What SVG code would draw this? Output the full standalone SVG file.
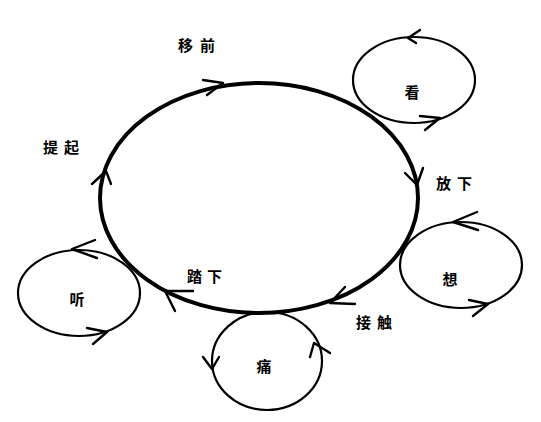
<svg xmlns="http://www.w3.org/2000/svg" width="541" height="422" viewBox="0 0 541 422">
<style>
.big{fill:none;stroke:#000;stroke-width:4}
.small{fill:none;stroke:#000;stroke-width:2.2}
.ah{fill:none;stroke:#000;stroke-width:2.4;stroke-linecap:round;stroke-linejoin:round}
.lbl{font-family:"Noto Sans CJK SC","Noto Sans CJK JP",sans-serif;font-weight:700;font-size:15px;fill:#000}
.in{font-family:"Noto Sans CJK SC","Noto Sans CJK JP",sans-serif;font-weight:700;font-size:15px;fill:#000;text-anchor:middle}
</style>
<rect width="541" height="422" fill="#fff"/>
<g id="cycle">
<ellipse class="big" cx="259" cy="198" rx="159" ry="115"/>
</g>
<g id="connectors">
<polyline class="ah" points="203,80 223,83 207,95"/>
<polyline class="ah" points="405,173 417,185 423,168"/>
<polyline class="ah" points="345,287 330,303 355,304"/>
<polyline class="ah" points="193,291 165,291 175,311"/>
<polyline class="ah" points="92,184 106,171 111,184"/>
<text class="lbl" x="178" y="51" letter-spacing="7">移前</text>
<text class="lbl" x="43" y="153" letter-spacing="6">提起</text>
<text class="lbl" x="436" y="189" letter-spacing="6">放下</text>
<text class="lbl" x="187" y="282" letter-spacing="5">踏下</text>
<text class="lbl" x="356" y="328" letter-spacing="6">接触</text>
</g>
<g id="kan">
<ellipse class="small" cx="414" cy="80" rx="61" ry="43"/>
<polyline class="ah" points="420,30 408,38 416,43"/>
<polyline class="ah" points="420,116 440,118 425,130"/>
<text class="in" x="412" y="98">看</text>
</g>
<g id="xiang">
<ellipse class="small" cx="461" cy="265" rx="61" ry="43"/>
<polyline class="ah" points="477,212 453,222 478,230"/>
<polyline class="ah" points="469,300 488,304 473,316"/>
<text class="in" x="450" y="285">想</text>
</g>
<g id="tong">
<ellipse class="small" cx="267" cy="361" rx="55" ry="49"/>
<polyline class="ah" points="203,357 212,369 219,357"/>
<polyline class="ah" points="310,357 314,343 330,353"/>
<text class="in" x="264" y="372">痛</text>
</g>
<g id="ting">
<ellipse class="small" cx="79" cy="293" rx="61" ry="43"/>
<polyline class="ah" points="95,240 72,249 97,258"/>
<polyline class="ah" points="87,328 107,332 93,344"/>
<text class="in" x="77" y="305">听</text>
</g>
</svg>
